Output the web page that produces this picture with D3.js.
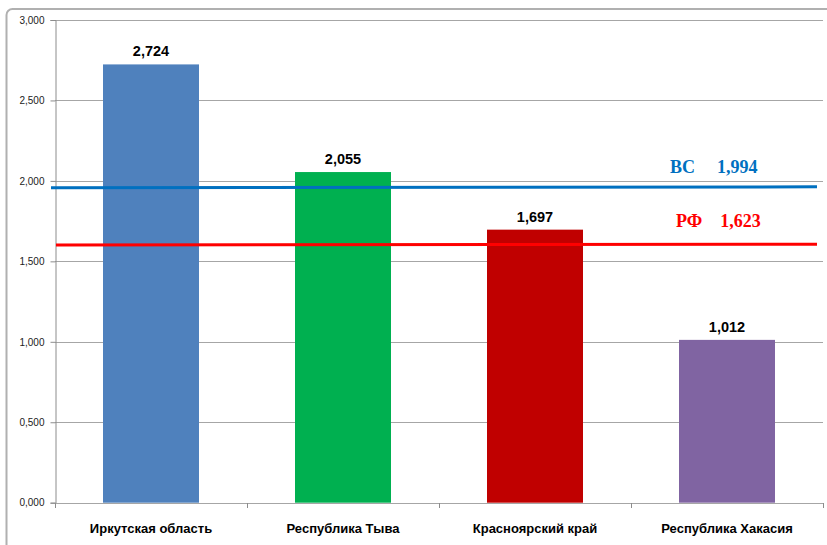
<!DOCTYPE html>
<html>
<head>
<meta charset="utf-8">
<script src="https://cdn.jsdelivr.net/npm/d3@7"></script>
<style>
  html, body { margin: 0; padding: 0; background: #fff; }
  svg { display: block; }
</style>
</head>
<body>
<svg id="chart" width="827" height="545"></svg>
<script>
// ---- data ----
const categories = ["Иркутская область", "Республика Тыва", "Красноярский край", "Республика Хакасия"];
const values = [2.724, 2.055, 1.697, 1.012];
const barColors = ["#4F81BD", "#00B050", "#C00000", "#8064A2"];
const yTicks = [0, 0.5, 1, 1.5, 2, 2.5, 3];
// reference lines: label, stated value, drawn level at left / right end
const refNames = ["ВС", "РФ"];
const refValues = [1.994, 1.623];
const refLevelLeft = [1.957, 1.602];
const refLevelRight = [1.963, 1.607];
const refColors = ["#0070C0", "#FF0000"];

// values shown as "2,724" (comma as decimal separator)
const fmtDec = v => v.toFixed(3).replace(".", ",");

const svg = d3.select("#chart");

// outer frame
svg.append("rect")
  .attr("x", 6.5).attr("y", 9)
  .attr("width", 830).attr("height", 560)
  .attr("rx", 6)
  .attr("fill", "none")
  .attr("stroke", "#b0b0b0")
  .attr("stroke-width", 2);

const pLeft = 55, pRight = 823, pTop = 20, pBottom = 502.7;

const x = d3.scaleBand()
  .domain(categories)
  .range([pLeft, pRight])
  .paddingInner(0.5)
  .paddingOuter(0.25);

const y = d3.scaleLinear().domain([0, 3]).range([pBottom, pTop]);

// gridlines
svg.append("g")
  .selectAll("line")
  .data(yTicks.filter(t => t > 0))
  .join("line")
  .attr("x1", pLeft).attr("x2", pRight)
  .attr("y1", d => Math.round(y(d)) + 0.5).attr("y2", d => Math.round(y(d)) + 0.5)
  .attr("stroke", "#a6a6a6")
  .attr("stroke-width", 1);

// y axis
const yAxis = d3.axisLeft(y)
  .tickValues(yTicks)
  .tickSize(5)
  .tickPadding(6)
  .tickFormat(fmtDec);
const gy = svg.append("g")
  .attr("transform", `translate(${pLeft + 0.5},0)`)
  .call(yAxis);
gy.select(".domain").attr("stroke", "#8c8c8c");
gy.selectAll(".tick line").attr("stroke", "#8c8c8c");
gy.selectAll(".tick text")
  .attr("font-family", "Liberation Sans, Arial, sans-serif")
  .attr("font-size", 10)
  .attr("fill", "#222");

// bars
svg.append("g")
  .selectAll("rect")
  .data(values)
  .join("rect")
  .attr("x", (d, i) => x(categories[i]))
  .attr("y", d => y(d))
  .attr("width", x.bandwidth())
  .attr("height", d => y(0) - y(d))
  .attr("fill", (d, i) => barColors[i]);

// x axis
const boundaries = d3.range(categories.length + 1).map(i => pLeft + i * x.step());
const gx = svg.append("g");
gx.append("line")
  .attr("x1", pLeft).attr("x2", pRight)
  .attr("y1", Math.round(pBottom) + 0.5).attr("y2", Math.round(pBottom) + 0.5)
  .attr("stroke", "#a6a6a6");
gx.selectAll("line.tk")
  .data(boundaries)
  .join("line")
  .attr("class", "tk")
  .attr("x1", d => Math.round(d) + 0.5).attr("x2", d => Math.round(d) + 0.5)
  .attr("y1", Math.round(pBottom)).attr("y2", Math.round(pBottom) + 5)
  .attr("stroke", "#8c8c8c");
gx.selectAll("text")
  .data(categories)
  .join("text")
  .attr("x", d => x(d) + x.bandwidth() / 2)
  .attr("y", 533)
  .attr("text-anchor", "middle")
  .attr("font-family", "Liberation Sans, Arial, sans-serif")
  .attr("font-weight", "bold")
  .attr("font-size", 13)
  .attr("fill", "#000")
  .text(d => d);

// value labels
svg.append("g")
  .selectAll("text")
  .data(values)
  .join("text")
  .attr("x", (d, i) => x(categories[i]) + x.bandwidth() / 2)
  .attr("y", d => y(d) - 8)
  .attr("text-anchor", "middle")
  .attr("font-family", "Liberation Sans, Arial, sans-serif")
  .attr("font-weight", "bold")
  .attr("font-size", 14.5)
  .attr("fill", "#000")
  .text(d => fmtDec(d));

// reference lines
const refStart = [51, 56];
const refEnd = 817;
const refGap = [22, 18];
const g = svg.append("g");
refNames.forEach((name, i) => {
  g.append("line")
    .attr("x1", refStart[i]).attr("x2", refEnd)
    .attr("y1", y(refLevelLeft[i])).attr("y2", y(refLevelRight[i]))
    .attr("stroke", refColors[i])
    .attr("stroke-width", 3);
  const t = g.append("text")
    .attr("x", i === 0 ? 670 : 676)
    .attr("y", y(refLevelRight[i]) - (i === 0 ? 14 : 17.5))
    .attr("font-family", "Liberation Serif, Times New Roman, serif")
    .attr("font-weight", "bold")
    .attr("font-size", 18)
    .attr("fill", refColors[i]);
  t.append("tspan").text(name);
  t.append("tspan").attr("dx", refGap[i]).text(fmtDec(refValues[i]));
});
</script>
</body>
</html>
